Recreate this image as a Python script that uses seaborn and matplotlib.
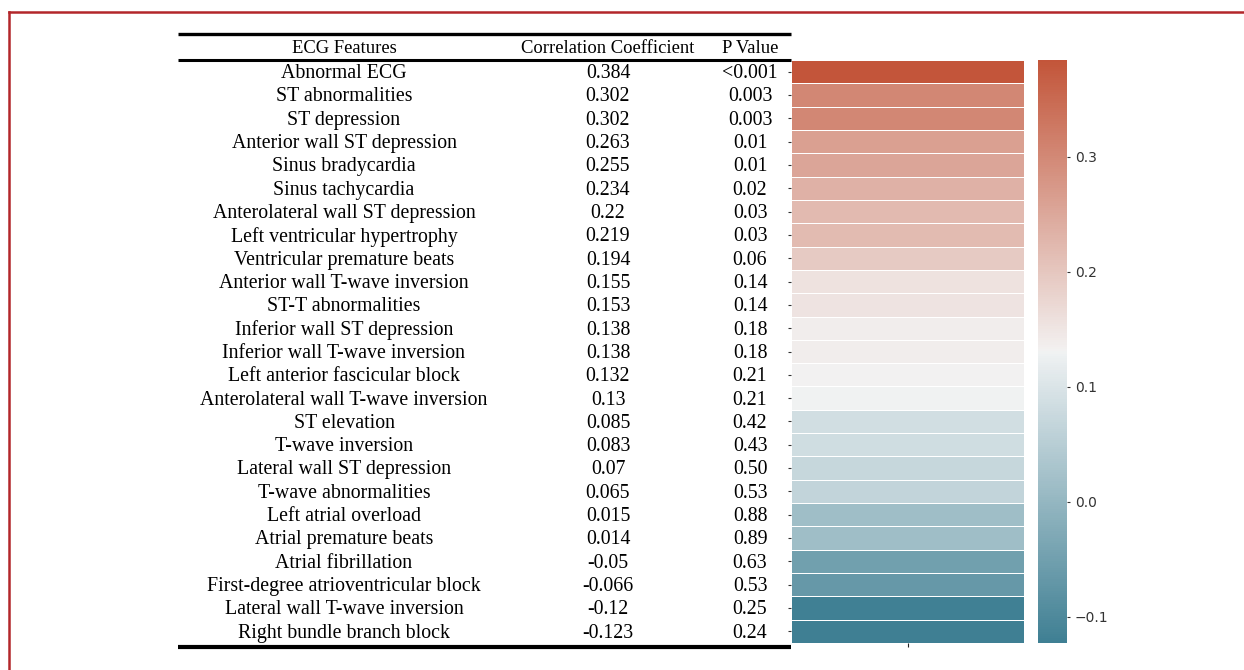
import seaborn as sns
import matplotlib.pyplot as plt
import pandas as pd
import numpy as np

features = [
    "Abnormal ECG", "ST abnormalities", "ST depression", "Anterior wall ST depression",
    "Sinus bradycardia", "Sinus tachycardia", "Anterolateral wall ST depression",
    "Left ventricular hypertrophy", "Ventricular premature beats",
    "Anterior wall T-wave inversion", "ST-T abnormalities", "Inferior wall ST depression",
    "Inferior wall T-wave inversion", "Left anterior fascicular block",
    "Anterolateral wall T-wave inversion", "ST elevation", "T-wave inversion",
    "Lateral wall ST depression", "T-wave abnormalities", "Left atrial overload",
    "Atrial premature beats", "Atrial fibrillation", "First-degree atrioventricular block",
    "Lateral wall T-wave inversion", "Right bundle branch block",
]
corr_labels = ["0.384", "0.302", "0.302", "0.263", "0.255", "0.234", "0.22", "0.219",
               "0.194", "0.155", "0.153", "0.138", "0.138", "0.132", "0.13", "0.085",
               "0.083", "0.07", "0.065", "0.015", "0.014", "-0.05", "-0.066", "-0.12",
               "-0.123"]
p_values = ["<0.001", "0.003", "0.003", "0.01", "0.01", "0.02", "0.03", "0.03", "0.06",
            "0.14", "0.14", "0.18", "0.18", "0.21", "0.21", "0.42", "0.43", "0.50",
            "0.53", "0.88", "0.89", "0.63", "0.53", "0.25", "0.24"]
headers = ["ECG Features", "Correlation Coefficient", "P Value"]

df = pd.DataFrame({"corr": [float(v) for v in corr_labels]}, index=features)

W, H = 1244, 670
fig = plt.figure(figsize=(W / 100, H / 100), dpi=100)

def box(x0, x1, y0, y1):
    # pixel box -> figure fraction
    return [x0 / W, 1 - y1 / H, (x1 - x0) / W, (y1 - y0) / H]

# red frame (only top and left visible)
fig.add_artist(plt.Line2D([8.5 / W, 1], [1 - 12 / H, 1 - 12 / H], color="#b3262a", lw=1.8))
fig.add_artist(plt.Line2D([8.5 / W, 8.5 / W], [0, 1 - 12 / H], color="#b3262a", lw=1.8))

ax = fig.add_axes(box(791, 1024, 60, 643))
cax = fig.add_axes(box(1038, 1067, 60, 643))
cmap = sns.diverging_palette(220, 20, as_cmap=True)
sns.heatmap(df, ax=ax, cbar_ax=cax, cmap=cmap, linewidths=0.6, linecolor="white",
            xticklabels=[""], yticklabels=[""] * len(features))
ax.tick_params(axis="y", length=2, width=0.8, colors="#333333")
ax.tick_params(axis="x", length=3, width=0.8, colors="#222222")
ax.set_xlabel("")
ax.set_ylabel("")
cax.tick_params(labelsize=10, length=2, width=0.8, colors="#333333")
cax.set_yticks([-0.1, 0.0, 0.1, 0.2, 0.3])

# table on the left, sharing the heatmap row layout
tab = fig.add_axes(box(178, 791, 60, 643))
tab.set_xlim(178, 791)
tab.set_ylim(len(features), 0)
tab.axis("off")
serif = "Liberation Serif"
col_x = [344, 608, 750]
for i, (f, c, p) in enumerate(zip(features, corr_labels, p_values)):
    y = i + 0.58
    for x, s in zip(col_x, [f, c, p]):
        tab.text(x, y, s, ha="center", va="center", fontsize=14.3, family=serif, color="black")
for x, s in zip(col_x, headers):
    tab.text(x, -0.5, s, ha="center", va="center", fontsize=13.4, family=serif, color="black")

for yv, lw in [(-1.12, 2.4), (0.0, 2.2), (25.17, 3.0)]:
    tab.plot([178, 791], [yv, yv], color="black", lw=lw, clip_on=False, solid_capstyle="butt")

fig.savefig("out.png", dpi=100, facecolor="white")
